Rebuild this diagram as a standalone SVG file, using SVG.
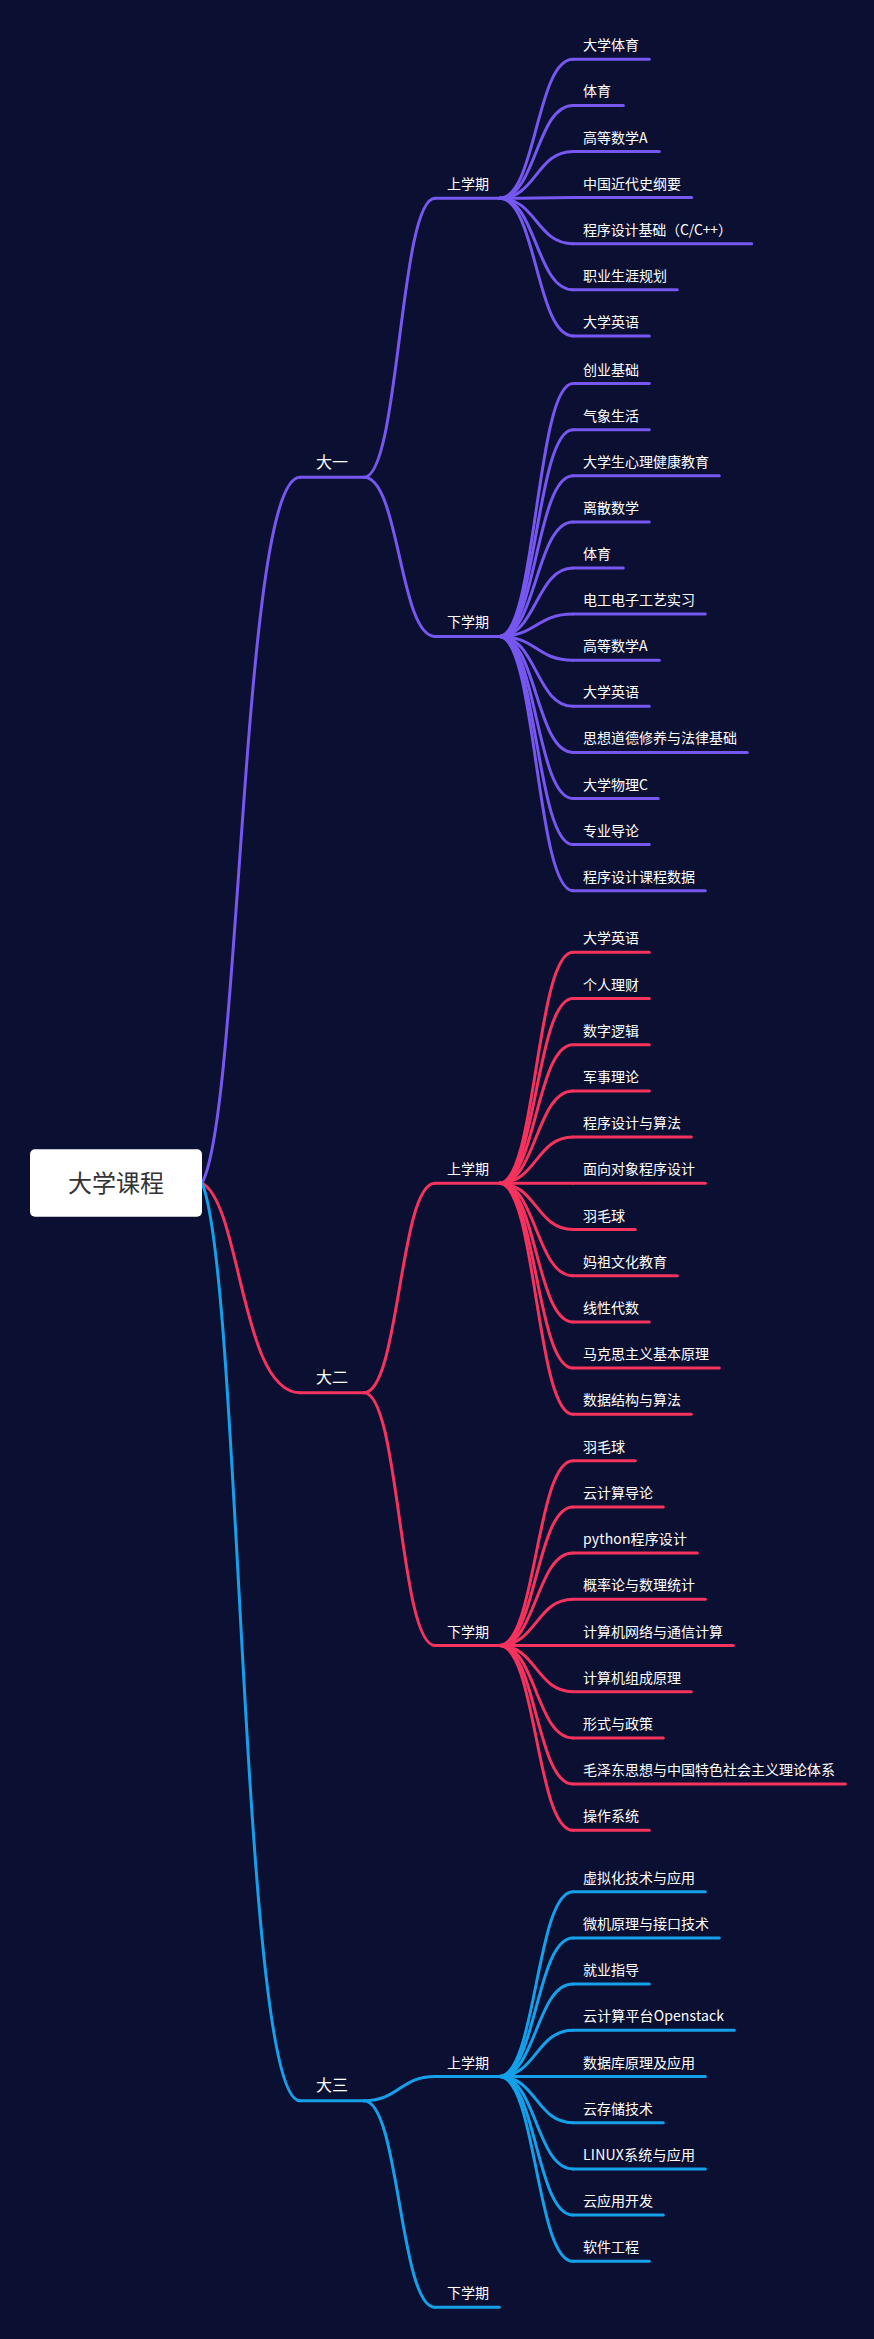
<svg xmlns="http://www.w3.org/2000/svg" width="874" height="2339" viewBox="0 0 874 2339">
<style>
.conn path{fill:none;stroke-width:3;stroke-linecap:round}
.p path,.p line{stroke:#7657f0}
.r path,.r line{stroke:#f5335d}
.b path,.b line{stroke:#15a0ea}
line{stroke-width:3;stroke-linecap:round}
text{font-family:"Noto Sans CJK SC","Noto Sans",sans-serif;fill:#ffffff}
.l3{font-size:14px}
.l2{font-size:14px}
.l1{font-size:16px}
.root text{font-size:24px;fill:#333333;text-anchor:middle}
</style>
<rect x="0" y="0" width="874" height="2339" fill="#0b0f32"/>
<g id="connectors" class="conn">
<g class="p">
<path d="M202,1183 C241.2,1112.4 241.2,477.3 300,477.3"/>
<path d="M364,477.3 C399.5,477.3 399.5,198.3 435,198.3"/>
<path d="M364,477.3 C399.5,477.3 399.5,636.4 435,636.4"/>
<path d="M499.3,198.3 C536.2,198.3 536.2,59.3 573,59.3"/>
<path d="M499.3,198.3 C536.2,198.3 536.2,105.4 573,105.4"/>
<path d="M499.3,198.3 C536.2,198.3 536.2,151.5 573,151.5"/>
<path d="M499.3,198.3 C536.2,198.3 536.2,197.6 573,197.6"/>
<path d="M499.3,198.3 C536.2,198.3 536.2,243.7 573,243.7"/>
<path d="M499.3,198.3 C536.2,198.3 536.2,289.8 573,289.8"/>
<path d="M499.3,198.3 C536.2,198.3 536.2,335.9 573,335.9"/>
<path d="M499.3,636.4 C536.2,636.4 536.2,383.6 573,383.6"/>
<path d="M499.3,636.4 C536.2,636.4 536.2,429.7 573,429.7"/>
<path d="M499.3,636.4 C536.2,636.4 536.2,475.8 573,475.8"/>
<path d="M499.3,636.4 C536.2,636.4 536.2,521.9 573,521.9"/>
<path d="M499.3,636.4 C536.2,636.4 536.2,568 573,568"/>
<path d="M499.3,636.4 C536.2,636.4 536.2,614.1 573,614.1"/>
<path d="M499.3,636.4 C536.2,636.4 536.2,660.2 573,660.2"/>
<path d="M499.3,636.4 C536.2,636.4 536.2,706.3 573,706.3"/>
<path d="M499.3,636.4 C536.2,636.4 536.2,752.4 573,752.4"/>
<path d="M499.3,636.4 C536.2,636.4 536.2,798.5 573,798.5"/>
<path d="M499.3,636.4 C536.2,636.4 536.2,844.6 573,844.6"/>
<path d="M499.3,636.4 C536.2,636.4 536.2,890.7 573,890.7"/>
</g>
<g class="r">
<path d="M202,1183 C241.2,1204 241.2,1392.7 300,1392.7"/>
<path d="M364,1392.7 C399.5,1392.7 399.5,1183.3 435,1183.3"/>
<path d="M364,1392.7 C399.5,1392.7 399.5,1645.5 435,1645.5"/>
<path d="M499.3,1183.3 C536.2,1183.3 536.2,952.3 573,952.3"/>
<path d="M499.3,1183.3 C536.2,1183.3 536.2,998.5 573,998.5"/>
<path d="M499.3,1183.3 C536.2,1183.3 536.2,1044.7 573,1044.7"/>
<path d="M499.3,1183.3 C536.2,1183.3 536.2,1090.9 573,1090.9"/>
<path d="M499.3,1183.3 C536.2,1183.3 536.2,1137.1 573,1137.1"/>
<path d="M499.3,1183.3 C536.2,1183.3 536.2,1183.3 573,1183.3"/>
<path d="M499.3,1183.3 C536.2,1183.3 536.2,1229.5 573,1229.5"/>
<path d="M499.3,1183.3 C536.2,1183.3 536.2,1275.7 573,1275.7"/>
<path d="M499.3,1183.3 C536.2,1183.3 536.2,1321.9 573,1321.9"/>
<path d="M499.3,1183.3 C536.2,1183.3 536.2,1368.1 573,1368.1"/>
<path d="M499.3,1183.3 C536.2,1183.3 536.2,1414.3 573,1414.3"/>
<path d="M499.3,1645.5 C536.2,1645.5 536.2,1460.7 573,1460.7"/>
<path d="M499.3,1645.5 C536.2,1645.5 536.2,1506.9 573,1506.9"/>
<path d="M499.3,1645.5 C536.2,1645.5 536.2,1553.1 573,1553.1"/>
<path d="M499.3,1645.5 C536.2,1645.5 536.2,1599.3 573,1599.3"/>
<path d="M499.3,1645.5 C536.2,1645.5 536.2,1645.5 573,1645.5"/>
<path d="M499.3,1645.5 C536.2,1645.5 536.2,1691.7 573,1691.7"/>
<path d="M499.3,1645.5 C536.2,1645.5 536.2,1737.9 573,1737.9"/>
<path d="M499.3,1645.5 C536.2,1645.5 536.2,1784.1 573,1784.1"/>
<path d="M499.3,1645.5 C536.2,1645.5 536.2,1830.3 573,1830.3"/>
</g>
<g class="b">
<path d="M202,1183 C241.2,1274.8 241.2,2100.7 300,2100.7"/>
<path d="M364,2100.7 C399.5,2100.7 399.5,2076.5 435,2076.5"/>
<path d="M364,2100.7 C399.5,2100.7 399.5,2307.3 435,2307.3"/>
<path d="M499.3,2076.5 C536.2,2076.5 536.2,1891.7 573,1891.7"/>
<path d="M499.3,2076.5 C536.2,2076.5 536.2,1937.9 573,1937.9"/>
<path d="M499.3,2076.5 C536.2,2076.5 536.2,1984.1 573,1984.1"/>
<path d="M499.3,2076.5 C536.2,2076.5 536.2,2030.3 573,2030.3"/>
<path d="M499.3,2076.5 C536.2,2076.5 536.2,2076.5 573,2076.5"/>
<path d="M499.3,2076.5 C536.2,2076.5 536.2,2122.7 573,2122.7"/>
<path d="M499.3,2076.5 C536.2,2076.5 536.2,2168.9 573,2168.9"/>
<path d="M499.3,2076.5 C536.2,2076.5 536.2,2215.1 573,2215.1"/>
<path d="M499.3,2076.5 C536.2,2076.5 536.2,2261.3 573,2261.3"/>
</g>
</g>
<g id="root" class="root">
<rect x="30" y="1149.3" width="172" height="67.4" rx="5" fill="#ffffff"/>
<text x="116" y="1192">大学课程</text>
</g>
<g class="p">
<g id="y1"><line x1="300" y1="477.3" x2="364" y2="477.3"/><text class="l1" x="316" y="467.8">大一</text></g>
<g id="y1s1"><line x1="435" y1="198.3" x2="499.3" y2="198.3"/><text class="l2" x="447" y="189.3">上学期</text></g>
<g id="y1s2"><line x1="435" y1="636.4" x2="499.3" y2="636.4"/><text class="l2" x="447" y="627.4">下学期</text></g>
<g id="y1s1-1"><line x1="573" y1="59.3" x2="649.3" y2="59.3"/><text class="l3" x="583" y="50.3">大学体育</text></g>
<g id="y1s1-2"><line x1="573" y1="105.4" x2="623.3" y2="105.4"/><text class="l3" x="583" y="96.4">体育</text></g>
<g id="y1s1-3"><line x1="573" y1="151.5" x2="659.3" y2="151.5"/><text class="l3" x="583" y="142.5">高等数学A</text></g>
<g id="y1s1-4"><line x1="573" y1="197.6" x2="691.7" y2="197.6"/><text class="l3" x="583" y="188.6">中国近代史纲要</text></g>
<g id="y1s1-5"><line x1="573" y1="243.7" x2="751.7" y2="243.7"/><text class="l3" x="583" y="234.7" textLength="149" lengthAdjust="spacing">程序设计基础（C/C++）</text></g>
<g id="y1s1-6"><line x1="573" y1="289.8" x2="677.3" y2="289.8"/><text class="l3" x="583" y="280.8">职业生涯规划</text></g>
<g id="y1s1-7"><line x1="573" y1="335.9" x2="649.3" y2="335.9"/><text class="l3" x="583" y="326.9">大学英语</text></g>
<g id="y1s2-1"><line x1="573" y1="383.6" x2="649.3" y2="383.6"/><text class="l3" x="583" y="374.6">创业基础</text></g>
<g id="y1s2-2"><line x1="573" y1="429.7" x2="649.3" y2="429.7"/><text class="l3" x="583" y="420.7">气象生活</text></g>
<g id="y1s2-3"><line x1="573" y1="475.8" x2="719.3" y2="475.8"/><text class="l3" x="583" y="466.8">大学生心理健康教育</text></g>
<g id="y1s2-4"><line x1="573" y1="521.9" x2="649.3" y2="521.9"/><text class="l3" x="583" y="512.9">离散数学</text></g>
<g id="y1s2-5"><line x1="573" y1="568" x2="623.3" y2="568"/><text class="l3" x="583" y="559">体育</text></g>
<g id="y1s2-6"><line x1="573" y1="614.1" x2="705.3" y2="614.1"/><text class="l3" x="583" y="605.1">电工电子工艺实习</text></g>
<g id="y1s2-7"><line x1="573" y1="660.2" x2="659.3" y2="660.2"/><text class="l3" x="583" y="651.2">高等数学A</text></g>
<g id="y1s2-8"><line x1="573" y1="706.3" x2="649.3" y2="706.3"/><text class="l3" x="583" y="697.3">大学英语</text></g>
<g id="y1s2-9"><line x1="573" y1="752.4" x2="747.3" y2="752.4"/><text class="l3" x="583" y="743.4">思想道德修养与法律基础</text></g>
<g id="y1s2-10"><line x1="573" y1="798.5" x2="658.3" y2="798.5"/><text class="l3" x="583" y="789.5">大学物理C</text></g>
<g id="y1s2-11"><line x1="573" y1="844.6" x2="649.3" y2="844.6"/><text class="l3" x="583" y="835.6">专业导论</text></g>
<g id="y1s2-12"><line x1="573" y1="890.7" x2="705.3" y2="890.7"/><text class="l3" x="583" y="881.7">程序设计课程数据</text></g>
</g>
<g class="r">
<g id="y2"><line x1="300" y1="1392.7" x2="364" y2="1392.7"/><text class="l1" x="316" y="1383.2">大二</text></g>
<g id="y2s1"><line x1="435" y1="1183.3" x2="499.3" y2="1183.3"/><text class="l2" x="447" y="1174.3">上学期</text></g>
<g id="y2s2"><line x1="435" y1="1645.5" x2="499.3" y2="1645.5"/><text class="l2" x="447" y="1636.5">下学期</text></g>
<g id="y2s1-1"><line x1="573" y1="952.3" x2="649.3" y2="952.3"/><text class="l3" x="583" y="943.3">大学英语</text></g>
<g id="y2s1-2"><line x1="573" y1="998.5" x2="649.3" y2="998.5"/><text class="l3" x="583" y="989.5">个人理财</text></g>
<g id="y2s1-3"><line x1="573" y1="1044.7" x2="649.3" y2="1044.7"/><text class="l3" x="583" y="1035.7">数字逻辑</text></g>
<g id="y2s1-4"><line x1="573" y1="1090.9" x2="649.3" y2="1090.9"/><text class="l3" x="583" y="1081.9">军事理论</text></g>
<g id="y2s1-5"><line x1="573" y1="1137.1" x2="691.3" y2="1137.1"/><text class="l3" x="583" y="1128.1">程序设计与算法</text></g>
<g id="y2s1-6"><line x1="573" y1="1183.3" x2="705.3" y2="1183.3"/><text class="l3" x="583" y="1174.3">面向对象程序设计</text></g>
<g id="y2s1-7"><line x1="573" y1="1229.5" x2="635.3" y2="1229.5"/><text class="l3" x="583" y="1220.5">羽毛球</text></g>
<g id="y2s1-8"><line x1="573" y1="1275.7" x2="677.3" y2="1275.7"/><text class="l3" x="583" y="1266.7">妈祖文化教育</text></g>
<g id="y2s1-9"><line x1="573" y1="1321.9" x2="649.3" y2="1321.9"/><text class="l3" x="583" y="1312.9">线性代数</text></g>
<g id="y2s1-10"><line x1="573" y1="1368.1" x2="719.3" y2="1368.1"/><text class="l3" x="583" y="1359.1">马克思主义基本原理</text></g>
<g id="y2s1-11"><line x1="573" y1="1414.3" x2="691.3" y2="1414.3"/><text class="l3" x="583" y="1405.3">数据结构与算法</text></g>
<g id="y2s2-1"><line x1="573" y1="1460.7" x2="635.3" y2="1460.7"/><text class="l3" x="583" y="1451.7">羽毛球</text></g>
<g id="y2s2-2"><line x1="573" y1="1506.9" x2="663.3" y2="1506.9"/><text class="l3" x="583" y="1497.9">云计算导论</text></g>
<g id="y2s2-3"><line x1="573" y1="1553.1" x2="697.3" y2="1553.1"/><text class="l3" x="583" y="1544.1" textLength="104" lengthAdjust="spacing">python程序设计</text></g>
<g id="y2s2-4"><line x1="573" y1="1599.3" x2="705.3" y2="1599.3"/><text class="l3" x="583" y="1590.3">概率论与数理统计</text></g>
<g id="y2s2-5"><line x1="573" y1="1645.5" x2="733.3" y2="1645.5"/><text class="l3" x="583" y="1636.5">计算机网络与通信计算</text></g>
<g id="y2s2-6"><line x1="573" y1="1691.7" x2="691.3" y2="1691.7"/><text class="l3" x="583" y="1682.7">计算机组成原理</text></g>
<g id="y2s2-7"><line x1="573" y1="1737.9" x2="663.3" y2="1737.9"/><text class="l3" x="583" y="1728.9">形式与政策</text></g>
<g id="y2s2-8"><line x1="573" y1="1784.1" x2="845.3" y2="1784.1"/><text class="l3" x="583" y="1775.1">毛泽东思想与中国特色社会主义理论体系</text></g>
<g id="y2s2-9"><line x1="573" y1="1830.3" x2="649.3" y2="1830.3"/><text class="l3" x="583" y="1821.3">操作系统</text></g>
</g>
<g class="b">
<g id="y3"><line x1="300" y1="2100.7" x2="364" y2="2100.7"/><text class="l1" x="316" y="2091.2">大三</text></g>
<g id="y3s1"><line x1="435" y1="2076.5" x2="499.3" y2="2076.5"/><text class="l2" x="447" y="2067.5">上学期</text></g>
<g id="y3s2"><line x1="435" y1="2307.3" x2="499.3" y2="2307.3"/><text class="l2" x="447" y="2298.3">下学期</text></g>
<g id="y3s1-1"><line x1="573" y1="1891.7" x2="705.3" y2="1891.7"/><text class="l3" x="583" y="1882.7">虚拟化技术与应用</text></g>
<g id="y3s1-2"><line x1="573" y1="1937.9" x2="719.3" y2="1937.9"/><text class="l3" x="583" y="1928.9">微机原理与接口技术</text></g>
<g id="y3s1-3"><line x1="573" y1="1984.1" x2="649.3" y2="1984.1"/><text class="l3" x="583" y="1975.1">就业指导</text></g>
<g id="y3s1-4"><line x1="573" y1="2030.3" x2="734.3" y2="2030.3"/><text class="l3" x="583" y="2021.3" textLength="141" lengthAdjust="spacing">云计算平台Openstack</text></g>
<g id="y3s1-5"><line x1="573" y1="2076.5" x2="705.3" y2="2076.5"/><text class="l3" x="583" y="2067.5">数据库原理及应用</text></g>
<g id="y3s1-6"><line x1="573" y1="2122.7" x2="663.3" y2="2122.7"/><text class="l3" x="583" y="2113.7">云存储技术</text></g>
<g id="y3s1-7"><line x1="573" y1="2168.9" x2="705.3" y2="2168.9"/><text class="l3" x="583" y="2159.9" textLength="112" lengthAdjust="spacing">LINUX系统与应用</text></g>
<g id="y3s1-8"><line x1="573" y1="2215.1" x2="663.3" y2="2215.1"/><text class="l3" x="583" y="2206.1">云应用开发</text></g>
<g id="y3s1-9"><line x1="573" y1="2261.3" x2="649.3" y2="2261.3"/><text class="l3" x="583" y="2252.3">软件工程</text></g>
</g>
</svg>
